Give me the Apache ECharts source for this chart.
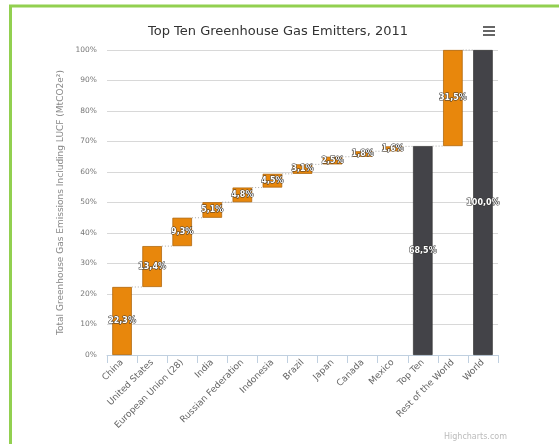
<!DOCTYPE html>
<html>
<head>
<meta charset="utf-8">
<script src="https://cdn.jsdelivr.net/npm/echarts@6/dist/echarts.min.js"></script>
<style>html,body{margin:0;padding:0;background:#fff}#c{width:559px;height:444px}</style>
</head>
<body>
<div id="c"></div>
<script>
var categories = ['China','United States','European Union (28)','India','Russian Federation','Indonesia','Brazil','Japan','Canada','Mexico','Top Ten','Rest of the World','World'];
var values = [22.3,13.4,9.3,5.1,4.8,4.5,3.1,2.5,1.8,1.6,68.5,31.5,100.0];
// 'step' = adds to running total, 'sum' = bar from 0 showing total
var kinds = ['step','step','step','step','step','step','step','step','step','step','sum','step','sum'];
var yTicks = [0,10,20,30,40,50,60,70,80,90,100];

var ORANGE = '#E8870C', DARK = '#434348';
var base = [], ends = [], run = 0;
for (var i = 0; i < values.length; i++) {
  if (kinds[i] === 'sum') { base.push(0); run = values[i]; ends.push(values[i]); }
  else { base.push(run); run += values[i]; ends.push(run); }
}
var BW = 0.65;
var barData = values.map(function (v, i) {
  return { value: v, itemStyle: { color: kinds[i] === 'sum' ? DARK : ORANGE, borderColor: kinds[i] === 'sum' ? '#333' : '#a85f05', borderWidth: 0.7 } };
});
var connData = [];
for (var j = 0; j < values.length - 1; j++) connData.push([j, ends[j]]);

var chart = echarts.init(document.getElementById('c'), null, { renderer: 'canvas' });
chart.setOption({
  animation: false,
  title: { text: 'Top Ten Greenhouse Gas Emitters, 2011', left: 273, textAlign: 'center', top: 20,
    textStyle: { fontFamily: 'DejaVu Sans', fontSize: 13, fontWeight: 'normal', color: '#333' } },
  grid: { left: 107, right: 61, top: 50, bottom: 89 },
  xAxis: {
    type: 'category', data: categories, boundaryGap: true,
    axisLine: { lineStyle: { color: '#c0d0e0' } },
    axisTick: { show: true, length: 8, lineStyle: { color: '#c0d0e0' } },
    axisLabel: { rotate: 45, fontSize: 9, color: '#666', fontFamily: 'DejaVu Sans', margin: 6, interval: 0 }
  },
  yAxis: {
    type: 'value', min: yTicks[0], max: yTicks[yTicks.length - 1], interval: 10,
    name: 'Total Greenhouse Gas Emissions Including LUCF (MtCO2e²)', nameLocation: 'middle', nameGap: 37,
    nameTextStyle: { fontSize: 9, color: '#888', fontFamily: 'DejaVu Sans' },
    axisLabel: { formatter: '{value}%', fontSize: 7.5, color: '#777', fontFamily: 'DejaVu Sans', margin: 10 },
    splitLine: { lineStyle: { color: '#d8d8d8' } },
    axisLine: { show: false }, axisTick: { show: false }
  },
  series: [
    { type: 'bar', stack: 'w', data: base, barWidth: (BW * 100) + '%', itemStyle: { color: 'transparent' }, silent: true },
    { type: 'bar', stack: 'w', data: barData, barWidth: (BW * 100) + '%',
      label: { show: true, position: 'inside', formatter: function (p) { return p.value.toFixed(1).replace('.', ',') + '%'; },
        color: '#fff', fontSize: 8, fontWeight: 'bold', fontFamily: 'DejaVu Sans', textBorderColor: '#333', textBorderWidth: 1 } },
    { type: 'custom', data: connData, z: 1,
      renderItem: function (params, api) {
        var i = api.value(0), y = api.value(1);
        var w = api.size([1, 0])[0] * BW / 2;
        var p1 = api.coord([i, y]), p2 = api.coord([i + 1, y]);
        return { type: 'line', shape: { x1: p1[0] + w, y1: p1[1], x2: p2[0] - w, y2: p2[1] },
          style: { stroke: '#aaa', lineWidth: 1, lineDash: [1, 2] } };
      } }
  ],
  graphic: [
    { type: 'rect', shape: { x: 10.5, y: 6, width: 620, height: 520 }, style: { fill: 'none', stroke: '#92D050', lineWidth: 3 }, silent: true },
    { type: 'group', left: 483, top: 26, children: [
      { type: 'rect', shape: { x: 0, y: 0, width: 12, height: 2 }, style: { fill: '#666' } },
      { type: 'rect', shape: { x: 0, y: 4, width: 12, height: 2 }, style: { fill: '#666' } },
      { type: 'rect', shape: { x: 0, y: 8, width: 12, height: 2 }, style: { fill: '#666' } }
    ] },
    { type: 'text', left: 444, top: 433, style: { text: 'Highcharts.com', fontSize: 8, fill: '#bbb', fontFamily: 'DejaVu Sans' } }
  ]
});
</script>
</body>
</html>
